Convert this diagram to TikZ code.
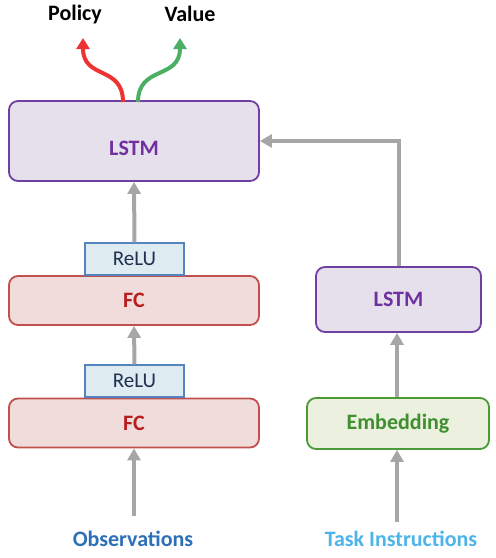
\documentclass[tikz,border=0pt]{standalone}
\usepackage{fontspec}
\setmainfont{Carlito}
\usetikzlibrary{arrows.meta}
\definecolor{lstmfill}{HTML}{E6E0EC}
\definecolor{lstmdraw}{HTML}{7040A0}
\definecolor{lstmtext}{HTML}{7030A0}
\definecolor{fcfill}{HTML}{F0DCDB}
\definecolor{fcdraw}{HTML}{C0504D}
\definecolor{fctext}{HTML}{B81E1E}
\definecolor{relufill}{HTML}{DEEBF1}
\definecolor{reludraw}{HTML}{5585BF}
\definecolor{relutext}{HTML}{1F3050}
\definecolor{embfill}{HTML}{EBF1DE}
\definecolor{embdraw}{HTML}{4A9A3A}
\definecolor{embtext}{HTML}{3F8F30}
\definecolor{obstext}{HTML}{2E70B6}
\definecolor{tasktext}{HTML}{4CB4E8}
\definecolor{arrgrey}{HTML}{A6A6A6}
\definecolor{polred}{HTML}{EE3333}
\definecolor{valgreen}{HTML}{4CAF64}
\begin{document}
\begin{tikzpicture}[x=1pt,y=-1pt,
  txt/.style={font=\fontsize{22}{26}\selectfont\bfseries},
  box/.style={rectangle,rounded corners=9pt,line width=1.8pt,inner sep=0pt,txt},
  lstmbox/.style={box,draw=lstmdraw,fill=lstmfill,text=lstmtext},
  fcbox/.style={box,draw=fcdraw,fill=fcfill,text=fctext,minimum width=250pt,minimum height=49pt},
  relubox/.style={rectangle,line width=1.6pt,draw=reludraw,fill=relufill,text=relutext,inner sep=0pt,minimum width=99pt,minimum height=32pt,font=\fontsize{21}{24}\selectfont},
  embbox/.style={box,draw=embdraw,fill=embfill,text=embtext},
  flow/.style={draw=arrgrey,line width=4pt,-{Triangle[width=13pt,length=12pt]}},
  outarr/.style={line width=4pt,-{Triangle[width=13pt,length=11pt]}}
]
\useasboundingbox (0,0) rectangle (496,558);
% left column
\node[lstmbox,minimum width=250pt,minimum height=80pt,
  label={[txt,text=lstmtext,yshift=-7pt]center:LSTM}] (lstm) at (134,141) {};
\node[fcbox] (fc1) at (134,300.5) {FC};
\node[relubox,anchor=south] (relu1) at (134.5,276) {ReLU};
\node[fcbox] (fc2) at (134,423) {FC};
\node[relubox,anchor=south] (relu2) at (134.5,398) {ReLU};
% right column
\node[lstmbox,minimum width=165pt,minimum height=65pt] (lstm2) at (398.5,299.5) {LSTM};
\node[embbox,minimum width=182pt,minimum height=51pt] (emb) at (398,423.5) {Embedding};
% labels
\node[txt] (policy) at (75,15) {Policy};
\node[txt] (value) at (190,14) {Value};
\node[txt,text=obstext] (obs) at (133,539) {Observations};
\node[txt,text=tasktext] (task) at (401,539) {Task Instructions};
\coordinate (obsin) at (134,516);
\coordinate (taskin) at (397,522);
% connectors
\draw[flow] (obsin) -- (fc2.south -| obsin);
\draw[flow] (relu2.north) -- (fc1.south);
\draw[flow] (relu1.north) -- (lstm.south);
\draw[flow] (taskin) -- (emb.south -| taskin);
\draw[flow] (emb.north -| taskin) -- (lstm2.south -| taskin);
\draw[flow] (lstm2.north -| 399,0) |- (lstm.east);
% outputs
\draw[outarr,draw=polred] (123,102) .. controls (123,65) and (83,80) .. (83,38);
\draw[outarr,draw=valgreen] (138,102) .. controls (138,65) and (180,80) .. (180,38);
\end{tikzpicture}
\end{document}
